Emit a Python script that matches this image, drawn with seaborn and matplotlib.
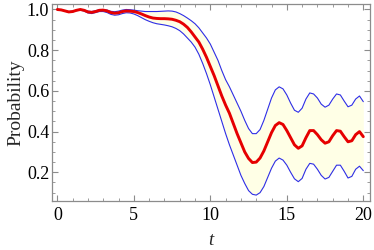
import numpy as np
import matplotlib
matplotlib.use("Agg")
import matplotlib.pyplot as plt
from matplotlib.ticker import MultipleLocator
import seaborn as sns

# time grid, step 0.25
t = np.arange(0, 20.0001, 0.25)

# upper bound (blue)
upper = [
    1.000, 0.998, 0.994, 0.990, 0.992, 0.997, 1.000, 0.998, 0.992, 0.990,
    0.994, 0.999, 1.000, 0.997, 0.991, 0.989, 0.992, 0.997, 1.000, 0.999,
    0.997, 0.994, 0.992, 0.990, 0.990, 0.990, 0.990, 0.991, 0.992, 0.993,
    0.992, 0.988, 0.980, 0.970, 0.958, 0.945, 0.930, 0.910, 0.885, 0.860,
    0.830, 0.790, 0.750, 0.700, 0.655, 0.620, 0.580, 0.540, 0.500, 0.455,
    0.415, 0.390, 0.390, 0.410, 0.455, 0.510, 0.565, 0.605, 0.620, 0.610,
    0.580, 0.540, 0.505, 0.495, 0.515, 0.560, 0.590, 0.585, 0.565, 0.535,
    0.520, 0.530, 0.560, 0.585, 0.580, 0.550, 0.522, 0.530, 0.560, 0.575,
    0.547,
]

# mean (red)
mean = [
    1.000, 0.998, 0.993, 0.988, 0.990, 0.996, 1.000, 0.996, 0.988, 0.986,
    0.990, 0.996, 0.997, 0.993, 0.985, 0.982, 0.984, 0.990, 0.993, 0.992,
    0.990, 0.985, 0.978, 0.970, 0.963, 0.958, 0.956, 0.955, 0.955, 0.954,
    0.952, 0.947, 0.940, 0.928, 0.912, 0.890, 0.865, 0.840, 0.805, 0.765,
    0.720, 0.675, 0.625, 0.575, 0.530, 0.490, 0.440, 0.390, 0.345, 0.300,
    0.268, 0.248, 0.250, 0.270, 0.305, 0.350, 0.395, 0.430, 0.444, 0.435,
    0.405, 0.370, 0.335, 0.318, 0.330, 0.370, 0.405, 0.405, 0.385, 0.360,
    0.343, 0.350, 0.380, 0.405, 0.402, 0.375, 0.350, 0.355, 0.385, 0.400,
    0.375,
]

# lower bound (blue)
lower = [
    1.000, 0.998, 0.992, 0.986, 0.988, 0.994, 0.997, 0.992, 0.983, 0.980,
    0.985, 0.990, 0.990, 0.985, 0.976, 0.972, 0.974, 0.980, 0.984, 0.983,
    0.978, 0.970, 0.960, 0.950, 0.942, 0.935, 0.930, 0.927, 0.924, 0.920,
    0.915, 0.907, 0.896, 0.880, 0.860, 0.840, 0.815, 0.780, 0.735, 0.685,
    0.630, 0.570, 0.510, 0.450, 0.390, 0.335, 0.285, 0.235, 0.185, 0.145,
    0.110, 0.092, 0.088, 0.100, 0.130, 0.175, 0.220, 0.255, 0.270, 0.260,
    0.235, 0.200, 0.168, 0.154, 0.170, 0.215, 0.244, 0.240, 0.215, 0.185,
    0.167, 0.175, 0.205, 0.235, 0.235, 0.205, 0.172, 0.180, 0.215, 0.230,
    0.208,
]

sns.set_style("ticks")
plt.rcParams['font.family'] = ['Liberation Serif', 'DejaVu Serif']

fig = plt.figure(figsize=(3.74, 2.5), dpi=100)
ax = fig.add_axes([0.139, 0.196, 0.850, 0.788])

ax.fill_between(t, lower, upper, color='#FFFFE6', linewidth=0, zorder=1)
sns.lineplot(x=t, y=upper, ax=ax, color='#2E2EE6', linewidth=0.8, zorder=2)
sns.lineplot(x=t, y=lower, ax=ax, color='#2E2EE6', linewidth=0.8, zorder=2)
sns.lineplot(x=t, y=mean, ax=ax, color='#E60000', linewidth=2.1, zorder=3)

ax.set_xlim(-0.35, 20.43)
ax.set_ylim(0.059, 1.027)
ax.xaxis.set_major_locator(MultipleLocator(5))
ax.xaxis.set_minor_locator(MultipleLocator(1))
ax.yaxis.set_major_locator(MultipleLocator(0.2))
ax.yaxis.set_minor_locator(MultipleLocator(0.05))

for s in ax.spines.values():
    s.set_color('#8C8C8C')
    s.set_linewidth(0.9)

ax.tick_params(which='both', direction='in', top=True, right=True,
               color='#8C8C8C', labelsize=13, labelcolor='black')
ax.tick_params(which='major', length=4, width=0.8)
ax.tick_params(which='minor', length=2.2, width=0.6)
ax.tick_params(axis='x', pad=4)
ax.tick_params(axis='y', pad=2)

ax.set_xlabel('t', fontsize=13.5, fontstyle='italic', labelpad=6)
ax.set_ylabel('Probability', fontsize=14, labelpad=2)

fig.savefig('out.png', dpi=100)
